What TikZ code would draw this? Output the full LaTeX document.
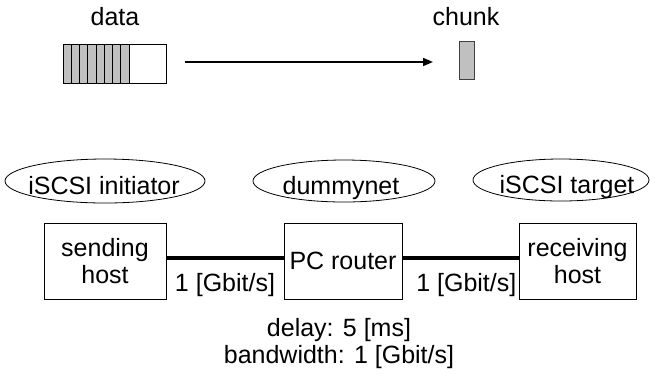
\documentclass[tikz,border=0pt]{standalone}
\usepackage{fontspec}
\setmainfont{Liberation Sans}
\usetikzlibrary{arrows.meta}
\definecolor{chunkgray}{HTML}{C0C0C0}
\begin{document}
\begin{tikzpicture}[x=1pt, y=-1pt,
    every node/.style={font=\fontsize{25}{27}\selectfont, inner sep=0pt},
    hostbox/.style={draw, line width=0.9pt, minimum height=76pt, align=center},
    link/.style={line width=4pt}]
    \useasboundingbox (0,0) rectangle (669,376);

    % data and chunk:
    \node[anchor=base] (datalabel) at (115,25) {data};
    \node[anchor=base] (chunklabel) at (466,25) {chunk};
    \foreach \i in {0,...,7}
        \draw[fill=chunkgray, line width=1pt] (63+8.25*\i,44) rectangle (71.25+8.25*\i,83);
    \node[draw, line width=0.9pt, minimum width=103pt, minimum height=39pt, anchor=north west] (data) at (63,44) {};
    \node[draw=black!75, fill=chunkgray, line width=1.2pt, minimum width=15pt, minimum height=38pt, anchor=north west] (chunk) at (459,41) {};

    % arrow:
    \coordinate (from) at (185,62);
    \coordinate (to) at (433,62);
    \draw[-{Triangle[length=10pt,width=8pt]}, line width=1.6pt] (from) -- (to);

    % tags:
    \draw[line width=0.8pt] (105,181) ellipse (100pt and 22pt);
    \draw[line width=0.8pt] (344,181) ellipse (91pt and 21pt);
    \draw[line width=0.8pt] (561,180) ellipse (88pt and 21pt);
    \node[anchor=base] (initiator) at (104,194) {iSCSI initiator};
    \node[anchor=base] (dummynet) at (341,194) {dummynet};
    \node[anchor=base] (target) at (567,193) {iSCSI target};

    % hosts:
    \node[hostbox, minimum width=122pt] (sender) at (105,261) {sending\\host};
    \node[hostbox, minimum width=118pt] (router) at (343,261) {PC router};
    \node[hostbox, minimum width=117pt] (receiver) at (577.5,261) {receiving\\host};

    % links:
    \draw[link] ([yshift=3pt]sender.east) -- ([yshift=3pt]router.west)
        node[midway, below=13pt] (linkone) {1 [Gbit/s]};
    \draw[link] ([yshift=3pt]router.east) -- ([yshift=3pt]receiver.west)
        node[pos=0.55, below=13pt] (linktwo) {1 [Gbit/s]};

    % router settings:
    \node[anchor=north, align=center] (params) at ([xshift=-4pt, yshift=-19pt]router.south) {delay: 5 [ms]\\bandwidth: 1 [Gbit/s]};
\end{tikzpicture}
\end{document}
